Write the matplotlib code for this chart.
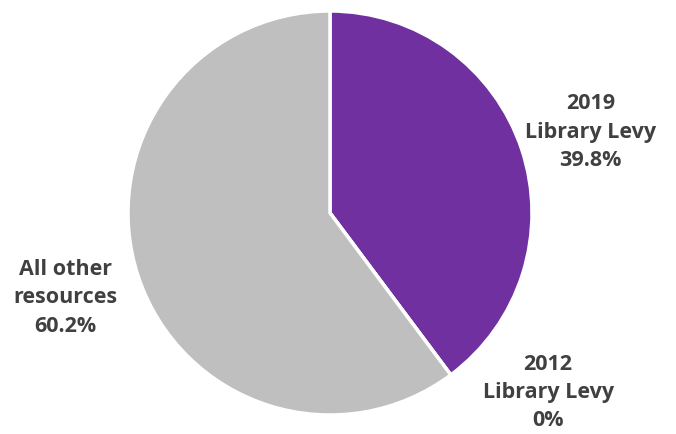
import matplotlib
matplotlib.use('Agg')
import matplotlib.pyplot as plt

labels = ['2019\nLibrary Levy', '2012\nLibrary Levy', 'All other\nresources']
shares = [39.8, 0.0, 60.2]
colors = ['#7030A0', '#7030A0', '#BFBFBF']
# label anchor points in pie units (radius 1)
label_pos = [(1.29, 0.40), (1.08, -0.89), (-1.31, -0.42)]

fig = plt.figure(figsize=(6.76, 4.34), dpi=100)
ax = fig.add_axes([0, 0, 1, 1])

ax.pie(shares, colors=colors, startangle=90, counterclock=False,
       radius=1.0, wedgeprops=dict(edgecolor='white', linewidth=2.5))

for lab, val, (x, y) in zip(labels, shares, label_pos):
    txt = '%s\n%s%%' % (lab, ('%.1f' % val) if val else '0')
    ax.text(x, y, txt, ha='center', va='center', fontsize=15.5,
            fontweight='bold', color='#404040', family='Open Sans',
            linespacing=1.45)

ax.set_xlim(-330 / 202, 346 / 202)
ax.set_ylim(-221 / 202, 213 / 202)
ax.set_aspect('auto')
ax.axis('off')

fig.savefig('out.png', dpi=100)
